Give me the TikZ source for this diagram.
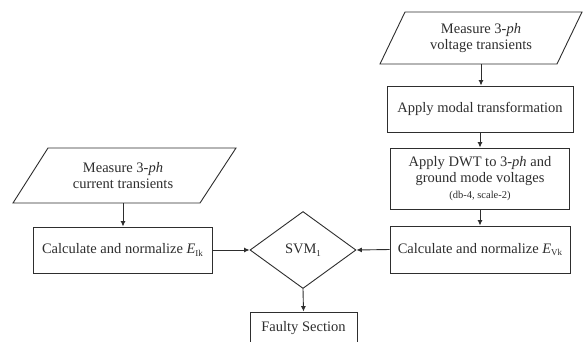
\documentclass[tikz,border=0pt]{standalone}
\usepackage{fontspec}
\setmainfont{Liberation Serif}
\usetikzlibrary{arrows.meta,shapes.geometric}
\definecolor{ink}{HTML}{2E2E2E}
\begin{document}
\begin{tikzpicture}[x=1pt,y=-1pt,
  txt/.style={font=\fontsize{14.5}{16.5}\selectfont, text=ink, align=center, inner sep=0pt},
  box/.style={txt, draw=ink, line width=0.9pt},
  io/.style={txt},
  shapeline/.style={draw=ink, line width=0.9pt, line join=miter},
  arr/.style={-{Latex[length=5.5pt,width=5pt]}, line width=0.9pt, draw=ink}]
\useasboundingbox (0,0) rectangle (587,341);
\clip (0,0) rectangle (587,341);
\fill[white] (0,0) rectangle (587,341);

% parallelograms (drawn shapes) and their text nodes
\draw[shapeline] (405,12) -- (582,12) -- (557,64) -- (380,64) -- cycle;
\node[io, minimum height=52pt] (mv) at (481,38) {Measure 3-\textit{ph}\\voltage transients};

\draw[shapeline] (48,148) -- (236,148) -- (200,203) -- (13,203) -- cycle;
\node[io, minimum height=55pt] (mc) at (123,175.5) {Measure 3-\textit{ph}\\current transients};

% boxes
\node[box, minimum width=186pt, minimum height=46pt] (b1) at (480,109) {Apply modal transformation};
\node[box, minimum width=179pt, minimum height=61pt] (b2) at (480,178.5)
  {Apply DWT to 3-\textit{ph} and\\ground mode voltages\\[-1pt]{\fontsize{10.5}{12}\selectfont (db-4, scale-2)}};
\node[box, minimum width=180pt, minimum height=47pt] (b3) at (480,249.5)
  {Calculate and normalize \textit{E}{\fontsize{9}{10}\selectfont\raisebox{-2.5pt}{Vk}}};
\node[box, minimum width=179pt, minimum height=46pt] (lb) at (122.5,250)
  {Calculate and normalize \textit{E}{\fontsize{9}{10}\selectfont\raisebox{-2.5pt}{Ik}}};
\node[txt, diamond, draw=ink, line width=0.9pt, minimum width=106pt, minimum height=77pt] (svm) at (303,250) {SVM{\fontsize{9}{10}\selectfont\raisebox{-2.5pt}{1}}};
\node[box, minimum width=107pt, minimum height=32pt] (fs) at (303.5,328) {Faulty Section};

% connectors
\draw[arr] (mv.south) -- (mv.south |- b1.north);
\draw[arr] (b1.south) -- (b2.north);
\draw[arr] (b2.south) -- (b3.north);
\draw[arr] (mc.south) -- (mc.south |- lb.north);
\draw[arr] (lb.east) -- (svm.west);
\draw[arr] (b3.west) -- (svm.east);
\draw[arr] (svm.south) -- (fs.north);
\end{tikzpicture}
\end{document}
